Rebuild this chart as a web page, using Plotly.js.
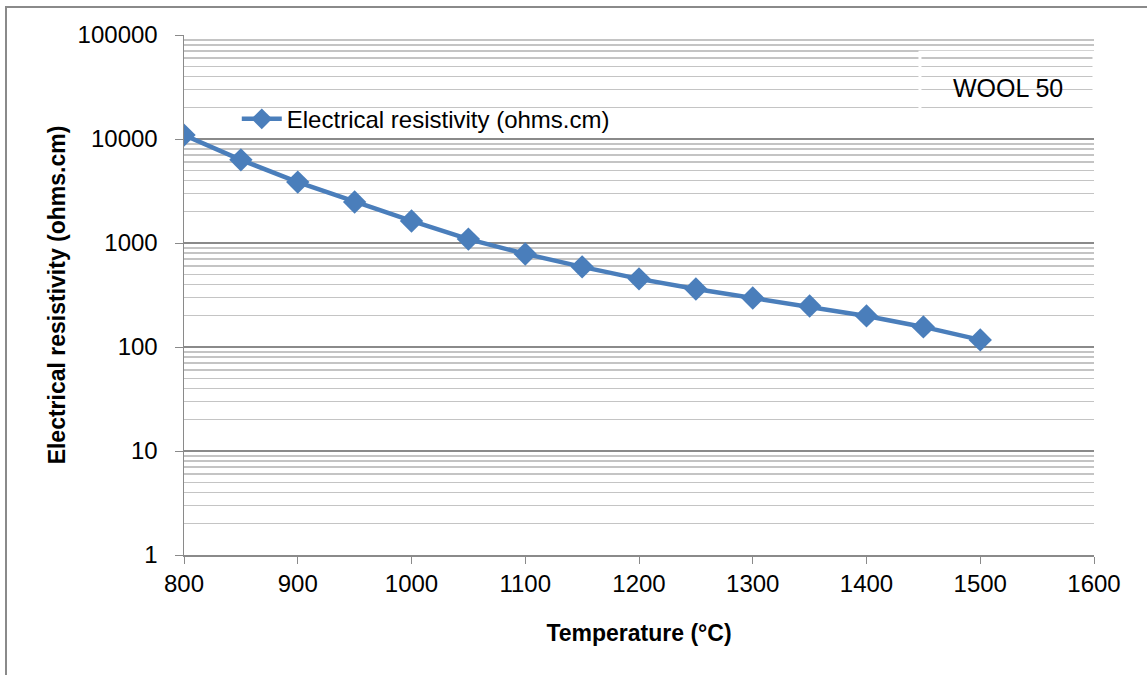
<!DOCTYPE html>
<html>
<head>
<meta charset="utf-8">
<script src="https://cdn.plot.ly/plotly-3.0.1.min.js"></script>
<style>
  html, body { margin: 0; padding: 0; background: #fff; }
  #chart { position: absolute; left: 0; top: 0; width: 1147px; height: 675px; }
  #frame { position: absolute; left: 5px; top: 6px; width: 1142px; height: 669px;
           border-left: 2px solid #8a8a8a; border-top: 2px solid #8a8a8a; box-sizing: border-box;
           pointer-events: none; }
</style>
</head>
<body>
<div id="chart"></div>
<div id="frame"></div>
<script>
// Data
const temperature = [800, 850, 900, 950, 1000, 1050, 1100, 1150, 1200, 1250, 1300, 1350, 1400, 1450, 1500];
const resistivity = [10900, 6300, 3850, 2480, 1630, 1090, 785, 590, 452, 361, 296, 248, 199, 156, 117];
const seriesName = "Electrical resistivity (ohms.cm)";
const yTickVals = [1, 10, 100, 1000, 10000, 100000];
const yTickText = ["1", "10", "100", "1000", "10000", "100000"];
const xTickVals = [800, 900, 1000, 1100, 1200, 1300, 1400, 1500, 1600];
const boxLabel = "WOOL 50";

const FONT = "Liberation Sans, Arial, sans-serif";
const BLUE = "#4a7ebb";

const trace = {
  x: temperature,
  y: resistivity,
  name: seriesName,
  type: "scatter",
  mode: "lines+markers",
  line: { color: BLUE, width: 4.5 },
  marker: { symbol: "diamond", size: 18, color: BLUE },
  showlegend: true
};

const layout = {
  width: 1147,
  height: 675,
  paper_bgcolor: "#ffffff",
  plot_bgcolor: "#ffffff",
  margin: { l: 184, r: 53, t: 35, b: 120 },
  font: { family: FONT, size: 24, color: "#000" },
  showlegend: true,
  legend: {
    x: 0.058, xanchor: "left",
    y: 0.838, yanchor: "middle",
    bgcolor: "rgba(255,255,255,0)",
    font: { family: FONT, size: 24, color: "#000" },
    itemwidth: 40
  },
  xaxis: {
    type: "linear",
    range: [800, 1600],
    tickmode: "array",
    tickvals: xTickVals,
    showgrid: false,
    zeroline: false,
    showline: true,
    linecolor: "#8a8a8a",
    linewidth: 1.5,
    ticks: "outside",
    ticklen: 7,
    tickcolor: "#8a8a8a",
    tickfont: { family: FONT, size: 24, color: "#000" },
    title: { text: "Temperature (°C)", font: { family: FONT, size: 23, color: "#000", weight: "bold" }, standoff: 28 }
  },
  yaxis: {
    type: "log",
    range: [0, 5],
    tickmode: "array",
    tickvals: yTickVals,
    ticktext: yTickText,
    showgrid: true,
    gridcolor: "#8a8a8a",
    gridwidth: 1.5,
    zeroline: false,
    showline: true,
    linecolor: "#8a8a8a",
    linewidth: 1.5,
    ticks: "outside",
    ticklen: 8,
    tickcolor: "#8a8a8a",
    ticklabelstandoff: 12,
    tickfont: { family: FONT, size: 24, color: "#000" },
    minor: { dtick: "D1", showgrid: true, gridcolor: "#c4c4c4", gridwidth: 1.5, ticks: "" },
    title: { text: "Electrical resistivity (ohms.cm)", font: { family: FONT, size: 23, color: "#000", weight: "bold" }, standoff: 5 }
  },
  shapes: [
    { type: "rect", xref: "x", yref: "paper", x0: 1447, x1: 1600, y0: 0.856, y1: 0.967,
      line: { color: "#ffffff", width: 3 }, fillcolor: "rgba(0,0,0,0)", layer: "above" }
  ],
  annotations: [
    { xref: "x", yref: "paper", x: 1524, y: 0.898, text: boxLabel, showarrow: false,
      font: { family: FONT, size: 25, color: "#000" }, xanchor: "center", yanchor: "middle" }
  ]
};

Plotly.newPlot("chart", [trace], layout, { displayModeBar: false, staticPlot: true });
</script>
</body>
</html>
